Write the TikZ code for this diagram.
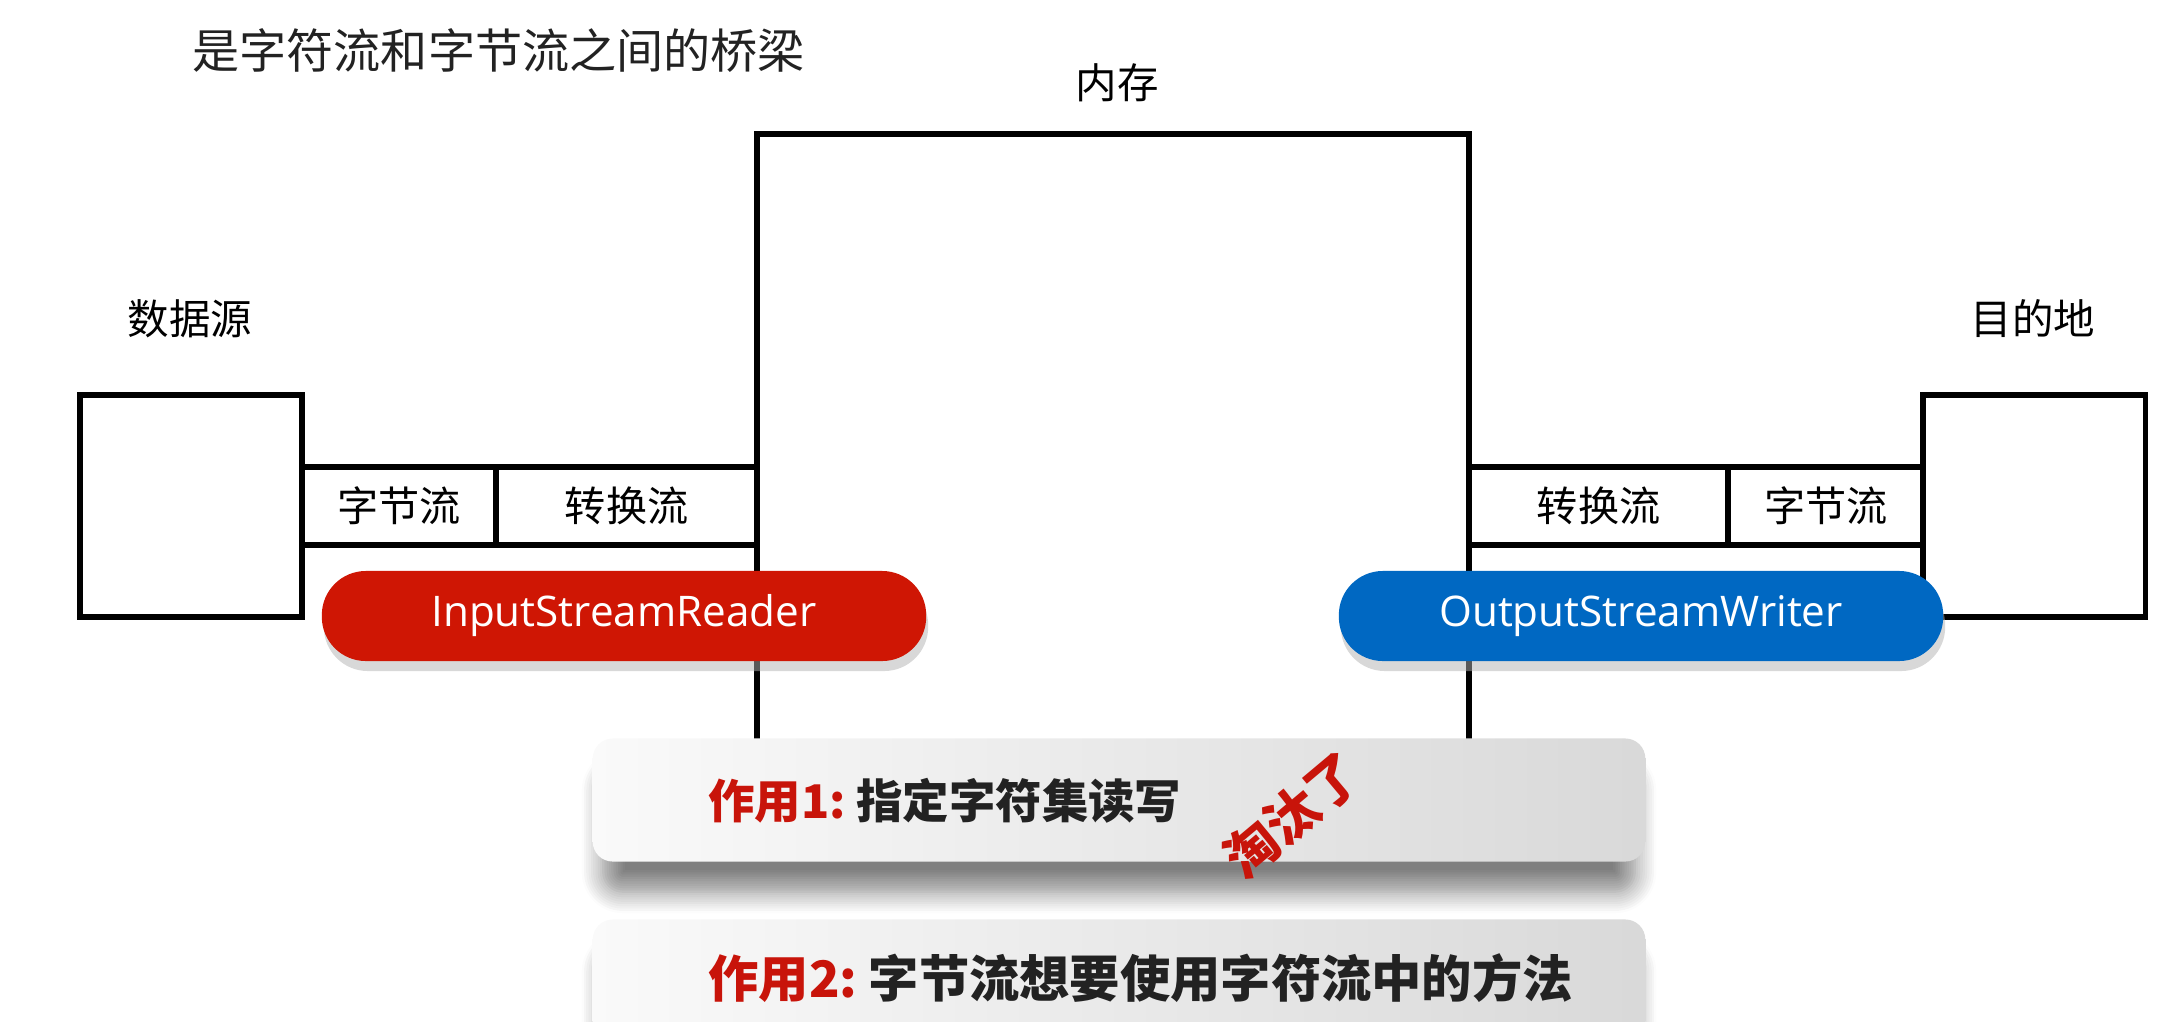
\documentclass[tikz,border=0pt]{standalone}
\usepackage{fontspec}
\setmainfont{Noto Sans CJK SC}
\newfontfamily\pillfont{Open Sans}
\usetikzlibrary{positioning, shadows, shadows.blur}

\definecolor{readerred}{RGB}{207,22,4}
\definecolor{writerblue}{RGB}{0,104,194}
\definecolor{tagred}{RGB}{200,20,10}
\definecolor{ink}{RGB}{34,34,34}

\begin{document}
\begin{tikzpicture}[
		x=0.01cm, y=-0.01cm,
		wire/.style={line width=1.6pt, line cap=rect},
		endbox/.style={draw, line width=1.6pt, minimum width=2.22cm, minimum height=2.22cm, outer sep=0pt},
		cell/.style={draw, line width=1.6pt, minimum height=0.78cm, inner sep=0pt, outer sep=0pt, font=\fontsize{11.7pt}{12pt}\selectfont},
		place/.style={font=\fontsize{11.8pt}{12pt}\selectfont},
		pill/.style={rounded corners=0.44cm, minimum width=6.04cm, minimum height=0.9cm, text=white, font=\pillfont\fontsize{12pt}{14pt}\selectfont,
			drop shadow={shadow xshift=0.02cm, shadow yshift=-0.1cm, fill=black!30, opacity=0.5}},
		card/.style={rounded corners=0.2cm, minimum width=10.52cm, minimum height=1.23cm, left color=black!2, right color=black!15,
			blur shadow={shadow xshift=0cm, shadow yshift=-0.32cm, shadow scale=0.98, shadow blur radius=0.22cm, shadow blur steps=10, shadow opacity=50}},
		cardtext/.style={anchor=west, text=ink, font=\bfseries\fontsize{13.2pt}{14pt}\selectfont}
		]
		
		\clip (0,0) rectangle (2173,1021);
		
		% Title
		\node[anchor=west, text=ink, font=\fontsize{13.4pt}{14pt}\selectfont] (title) at (180,51) {是字符流和字节流之间的桥梁};
		
		% Memory
		\node[place] (mem) at (1117,83) {内存};
		\draw[wire] (757,738) -- (757,134) -- (1469,134) -- (1469,738);
		
		% Streams
		\node[cell, minimum width=1.94cm, anchor=north west] (lbyte) at (302,467) {字节流};
		\node[cell, minimum width=2.61cm, right=0pt of lbyte] (lconv) {转换流};
		\node[endbox, left=0pt of lbyte] (src) {};
		\node[place] (srclabel) at (190,319) {数据源};
		
		\node[cell, minimum width=2.59cm, anchor=north west] (rconv) at (1469,467) {转换流};
		\node[cell, minimum width=1.95cm, right=0pt of rconv] (rbyte) {字节流};
		\node[endbox, right=0pt of rbyte] (dst) {};
		\node[place] (dstlabel) at (2033,319) {目的地};
		
		% Pills
		\node[pill, fill=readerred] (reader) at (624,616) {InputStreamReader};
		\node[pill, fill=writerblue] (writer) at (1641,616) {OutputStreamWriter};
		
		% Cards
		\node[card] (use1) at (1119,800) {};
		\node[card] (use2) at (1119,981) {};
		\node[cardtext] (use1text) at (696,801) {\textcolor{tagred}{作用1:}\ 指定字符集读写};
		\node[cardtext, font=\bfseries\fontsize{14.3pt}{15pt}\selectfont] (use2text) at (696,978) {\textcolor{tagred}{作用2:}\ 字节流想要使用字符流中的方法};
		\node[rotate=40, inner sep=0pt, text=tagred, font=\bfseries\fontsize{15pt}{15pt}\selectfont] (gone) at (1292,815) {淘汰了};
		
	\end{tikzpicture}
\end{document}
